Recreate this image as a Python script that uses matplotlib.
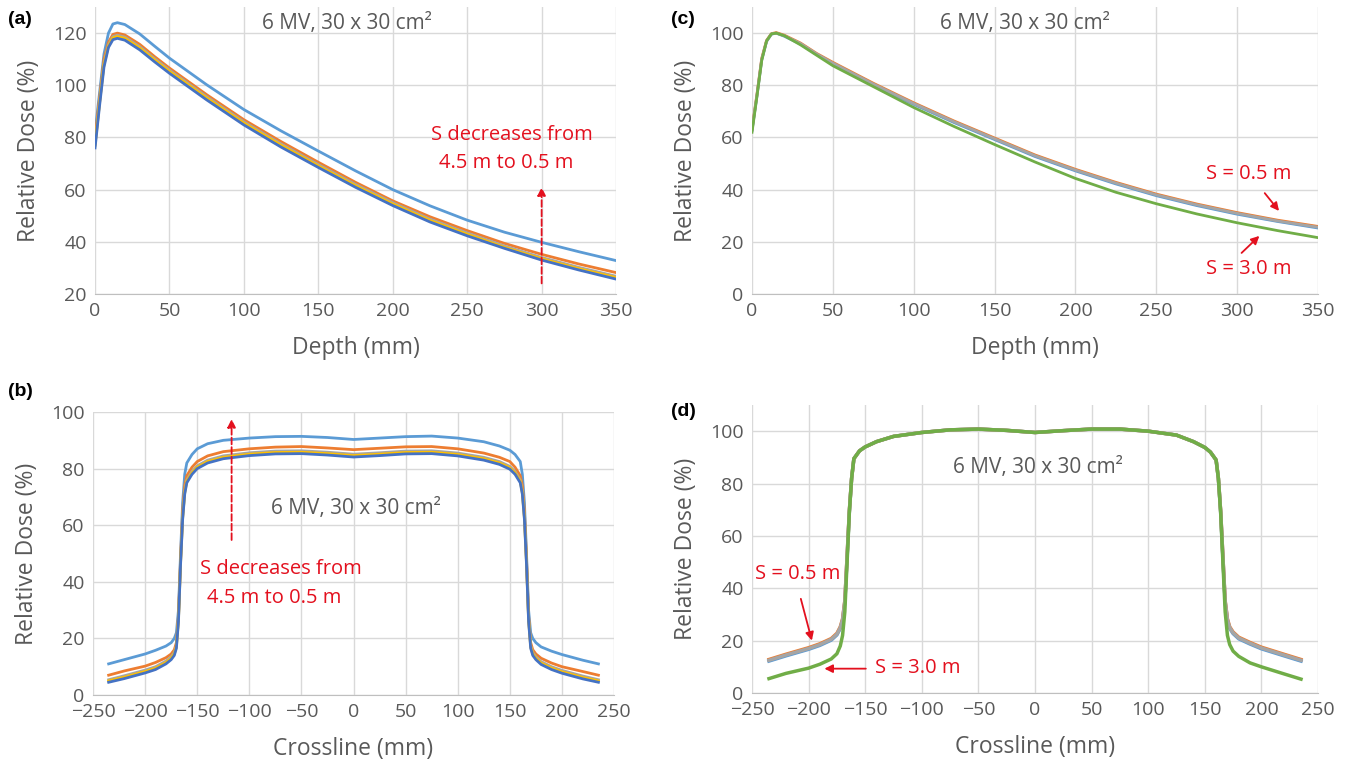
import numpy as np
import matplotlib
matplotlib.use("Agg")
import matplotlib.pyplot as plt

plt.rcParams['font.family'] = ['Open Sans', 'DejaVu Sans']

# ---- colours (Excel default palette) ----
c_blue = '#5b9bd5'
c_orange = '#ed7d31'
c_gray = '#a5a5a5'
c_gold = '#ffc000'
c_dblue = '#4472c4'
c_green = '#70ad47'
c_text = '#595959'
c_red = '#e3101e'

# ---- (a) depth dose, absolute ----
depth = [0, 3, 6, 9, 12, 15, 20, 30, 40, 50, 75, 100, 125, 150, 175, 200, 225, 250, 275, 300, 325, 350]
pdd_a_blue = [82, 97, 112, 120, 123.5, 124, 123.3, 119.7, 115, 110.4, 100.2, 90.7, 82.5, 74.8, 67.2, 60, 53.8, 48.3, 43.7, 39.8, 36.2, 32.8]
pdd_a_orange = [80, 95, 110, 116.5, 119.5, 120, 119.3, 115.7, 111, 106.6, 96.4, 86.8, 78.4, 70.5, 62.8, 55.7, 49.6, 44.3, 39.4, 35.2, 31.5, 28.2]
pdd_a_gray = [77.5, 93.5, 108.5, 115.5, 118.7, 119.2, 118.5, 114.8, 110.2, 105.8, 95.6, 86, 77.5, 69.6, 62, 55, 48.7, 43.4, 38.4, 34, 30.2, 26.8]
pdd_a_gold = [77, 93, 108, 115, 118.2, 118.7, 118, 114.3, 109.7, 105.3, 95.1, 85.5, 77, 69.1, 61.5, 54.5, 48.2, 42.9, 37.9, 33.5, 29.7, 26.3]
pdd_a_dblue = [76, 92, 107, 114.5, 117.5, 118, 117.3, 113.6, 109, 104.6, 94.4, 84.8, 76.3, 68.5, 60.9, 53.9, 47.6, 42.3, 37.5, 33, 29.2, 25.7]

# ---- (c) depth dose, normalised ----
pdd_c_blue = [62.7, 75.7, 89.7, 96.8, 99.6, 100, 98.8, 95.8, 91.8, 88.2, 80.2, 72.7, 65.7, 59.2, 52.7, 47.2, 42.2, 37.7, 33.9, 30.6, 27.8, 25.3]
pdd_c_orange = [63.3, 76.3, 90.3, 97.2, 99.8, 100.2, 99.2, 96.2, 92.2, 88.8, 80.8, 73.3, 66.3, 59.8, 53.3, 47.8, 42.8, 38.3, 34.5, 31.2, 28.3, 25.9]
pdd_c_gray = [63, 76, 90, 97, 99.7, 100, 99, 96, 92, 88.5, 80.5, 73, 66, 59.5, 53, 47.5, 42.5, 38, 34.2, 30.9, 28, 25.6]
pdd_c_green = [62, 75.5, 89.5, 97, 99.7, 100, 99, 95.5, 91.5, 87.5, 79.5, 71.5, 64.2, 57.3, 50.6, 44.3, 39, 34.6, 30.7, 27.3, 24.3, 21.6]

# ---- (b) crossline profiles, absolute ----
xprof = [-235, -220, -200, -190, -180, -175, -172, -170, -168, -166, -164, -162, -160, -155, -150, -140, -125,
         -100, -75, -50, -25, 0, 25, 50, 75, 100, 125, 140, 150, 155, 160, 162, 164, 166, 168, 170, 172, 175,
         180, 190, 200, 220, 235]
prof_b_blue = [11, 12.5, 14.5, 15.8, 17.3, 18.5, 20, 22, 30, 50, 68, 78, 82, 85, 87, 88.8, 90,
               90.8, 91.3, 91.4, 91, 90.3, 90.8, 91.3, 91.5, 90.8, 89.5, 88, 86.5, 85, 82.5, 78, 68, 50, 30, 22, 20, 18.5,
               17, 15.5, 14.3, 12.3, 11]
prof_b_orange = [7, 8.5, 10.2, 11.5, 13.2, 14.5, 16, 18.5, 28, 48, 65, 74, 77.5, 80.5, 82.5, 84.5, 86,
                 87, 87.6, 87.8, 87.3, 86.7, 87.2, 87.7, 87.8, 87, 85.5, 84, 82.5, 80.5, 77.5, 74, 65, 48, 28, 18.5, 16, 14.5,
                 13, 11.3, 10, 8.3, 7]
prof_b_gray = [5.4, 6.8, 8.8, 10, 12, 13.5, 15, 17.5, 27, 47, 63, 72, 76, 79, 81, 83, 84.5,
               85.6, 86.2, 86.3, 85.8, 85.1, 85.6, 86.2, 86.3, 85.5, 84, 82.5, 80.8, 79, 76, 72, 63, 47, 27, 17.5, 15, 13.5,
               11.8, 10, 8.7, 6.7, 5.4]
prof_b_gold = [5, 6.3, 8.3, 9.5, 11.5, 13, 14.5, 17, 26.5, 46.5, 62.5, 71.5, 75.5, 78.5, 80.5, 82.5, 84,
               85.1, 85.7, 85.8, 85.3, 84.6, 85.1, 85.7, 85.8, 85, 83.5, 82, 80.3, 78.5, 75.5, 71.5, 62.5, 46.5, 26.5, 17, 14.5, 13,
               11.3, 9.5, 8.2, 6.2, 5]
prof_b_dblue = [4.5, 5.8, 7.8, 9, 11, 12.5, 14, 16.5, 26, 46, 62, 71, 75, 78, 80, 82, 83.5,
                84.6, 85.2, 85.3, 84.8, 84.1, 84.6, 85.2, 85.3, 84.5, 83, 81.5, 79.8, 78, 75, 71, 62, 46, 26, 16.5, 14, 12.5,
                10.8, 9, 7.7, 5.7, 4.5]

# ---- (d) crossline profiles, normalised ----
prof_d_blue = [12.2, 14.2, 16.7, 18.2, 20.2, 22.2, 24.7, 27.7, 34.7, 51.7, 69.3, 82, 89.5, 92.5, 94, 96, 98,
               99.5, 100.5, 100.8, 100.3, 99.5, 100.2, 100.8, 100.8, 100, 98.5, 96, 93.8, 92, 89, 82, 69.3, 51.7, 34.7, 27.7, 24.7, 22.7,
               20.7, 18.7, 16.9, 14.2, 12.2]
prof_d_orange = [12.8, 14.8, 17.3, 18.8, 20.8, 22.8, 25.3, 28.3, 35.3, 52.3, 69.7, 82, 89.5, 92.5, 94, 96, 98,
                 99.5, 100.5, 100.8, 100.3, 99.5, 100.2, 100.8, 100.8, 100, 98.5, 96, 93.8, 92, 89, 82, 69.7, 52.3, 35.3, 28.3, 25.3, 23.3,
                 21.3, 19.3, 17.5, 14.8, 12.8]
prof_d_gray = [12.5, 14.5, 17, 18.5, 20.5, 22.5, 25, 28, 35, 52, 69.5, 82, 89.5, 92.5, 94, 96, 98,
               99.5, 100.5, 100.8, 100.3, 99.5, 100.2, 100.8, 100.8, 100, 98.5, 96, 93.8, 92, 89, 82, 69.5, 52, 35, 28, 25, 23,
               21, 19, 17.2, 14.5, 12.5]
prof_d_green = [5.5, 7.5, 9.5, 11, 13, 15, 18, 22, 31, 50, 69, 82, 89.5, 92.5, 94, 96, 98,
                99.5, 100.5, 100.8, 100.3, 99.5, 100.2, 100.8, 100.8, 100, 98.5, 96, 93.8, 92, 89, 82, 69, 50, 31, 22, 18.5, 16,
                14, 11.5, 10, 7.3, 5.3]

title_txt = "6 MV, 30 x 30 cm²"

fig = plt.figure(figsize=(13.54, 7.65), dpi=100)

ax_a = fig.add_axes([0.0702, 0.6157, 0.3848, 0.3751])
ax_c = fig.add_axes([0.5554, 0.6157, 0.4180, 0.3751])
ax_b = fig.add_axes([0.0687, 0.0915, 0.3848, 0.3699])
ax_d = fig.add_axes([0.5554, 0.0941, 0.4180, 0.3765])


def style(ax, xlim, ylim, xticks, yticks, xlabel):
    ax.set_xlim(*xlim)
    ax.set_ylim(*ylim)
    ax.set_xticks(xticks)
    ax.set_yticks(yticks)
    for s in ['top', 'right', 'left']:
        ax.spines[s].set_visible(False)
    ax.spines['bottom'].set_color('#bfbfbf')
    ax.grid(True, color='#d9d9d9', lw=1)
    ax.set_axisbelow(True)
    ax.tick_params(length=0, labelsize=14, colors=c_text, pad=6)
    ax.set_xlabel(xlabel, fontsize=16.5, color=c_text, labelpad=11)
    ax.set_ylabel("Relative Dose (%)", fontsize=16.5, color=c_text, labelpad=9)


lw = 2.0
fs_note = 14.5

# (a)
for y, c in [(pdd_a_blue, c_blue), (pdd_a_orange, c_orange), (pdd_a_gray, c_gray),
             (pdd_a_gold, c_gold), (pdd_a_dblue, c_dblue)]:
    ax_a.plot(depth, y, color=c, lw=lw)
style(ax_a, (0, 350), (20, 130), range(0, 351, 50), range(20, 121, 20), "Depth (mm)")
ax_a.text(169, 123.6, title_txt, ha='center', va='center', fontsize=15, color=c_text)
ax_a.text(280, 81, "S decreases from", ha='center', va='center', fontsize=fs_note, color=c_red)
ax_a.text(276, 70.4, "4.5 m to 0.5 m", ha='center', va='center', fontsize=fs_note, color=c_red)
ax_a.annotate("", xy=(300, 62), xytext=(300, 23),
              arrowprops=dict(arrowstyle='-|>', color=c_red, lw=1.3, ls='--', mutation_scale=12))

# (c)
for y, c in [(pdd_c_blue, c_blue), (pdd_c_orange, c_orange), (pdd_c_gray, c_gray), (pdd_c_green, c_green)]:
    ax_c.plot(depth, y, color=c, lw=lw)
style(ax_c, (0, 350), (0, 110), range(0, 351, 50), range(0, 101, 20), "Depth (mm)")
ax_c.text(168.5, 103.6, title_txt, ha='center', va='center', fontsize=15, color=c_text)
ax_c.text(307, 46, "S = 0.5 m", ha='center', va='center', fontsize=fs_note, color=c_red)
ax_c.annotate("", xy=(327, 31), xytext=(316, 39.5),
              arrowprops=dict(arrowstyle='-|>', color=c_red, lw=1.3, mutation_scale=12))
ax_c.text(307, 9.6, "S = 3.0 m", ha='center', va='center', fontsize=fs_note, color=c_red)
ax_c.annotate("", xy=(315, 23), xytext=(301.5, 15),
              arrowprops=dict(arrowstyle='-|>', color=c_red, lw=1.3, mutation_scale=12))

# (b)
for y, c in [(prof_b_blue, c_blue), (prof_b_orange, c_orange), (prof_b_gray, c_gray),
             (prof_b_gold, c_gold), (prof_b_dblue, c_dblue)]:
    ax_b.plot(xprof, y, color=c, lw=lw)
style(ax_b, (-250, 250), (0, 100), range(-250, 251, 50), range(0, 101, 20), "Crossline (mm)")
ax_b.text(2, 66, title_txt, ha='center', va='center', fontsize=15, color=c_text)
ax_b.text(-70, 44.4, "S decreases from", ha='center', va='center', fontsize=fs_note, color=c_red)
ax_b.text(-76, 34.4, "4.5 m to 0.5 m", ha='center', va='center', fontsize=fs_note, color=c_red)
ax_b.annotate("", xy=(-117, 98.5), xytext=(-117, 53.8),
              arrowprops=dict(arrowstyle='-|>', color=c_red, lw=1.3, ls='--', mutation_scale=12))

# (d)
for y, c in [(prof_d_blue, c_blue), (prof_d_orange, c_orange), (prof_d_gray, c_gray), (prof_d_green, c_green)]:
    ax_d.plot(xprof, y, color=c, lw=2.5)
style(ax_d, (-250, 250), (0, 110), range(-250, 251, 50), range(0, 101, 20), "Crossline (mm)")
ax_d.text(3, 86, title_txt, ha='center', va='center', fontsize=15, color=c_text)
ax_d.text(-210, 45.5, "S = 0.5 m", ha='center', va='center', fontsize=fs_note, color=c_red)
ax_d.annotate("", xy=(-196.5, 19), xytext=(-207.5, 37),
              arrowprops=dict(arrowstyle='-|>', color=c_red, lw=1.3, mutation_scale=12))
ax_d.text(-141, 9.5, "S = 3.0 m", ha='left', va='center', fontsize=fs_note, color=c_red)
ax_d.annotate("", xy=(-188.5, 9.3), xytext=(-147, 9.3),
              arrowprops=dict(arrowstyle='-|>', color=c_red, lw=1.3, mutation_scale=12))

# panel letters
for lbl, px, py in [("(a)", 8, 20), ("(c)", 671, 20), ("(b)", 8, 392), ("(d)", 671, 412)]:
    fig.text(px / 1354, 1 - py / 765, lbl, fontsize=14, fontweight='bold',
             family=['Liberation Sans', 'DejaVu Sans'], ha='left', va='center')

fig.savefig("out.png", dpi=100)
